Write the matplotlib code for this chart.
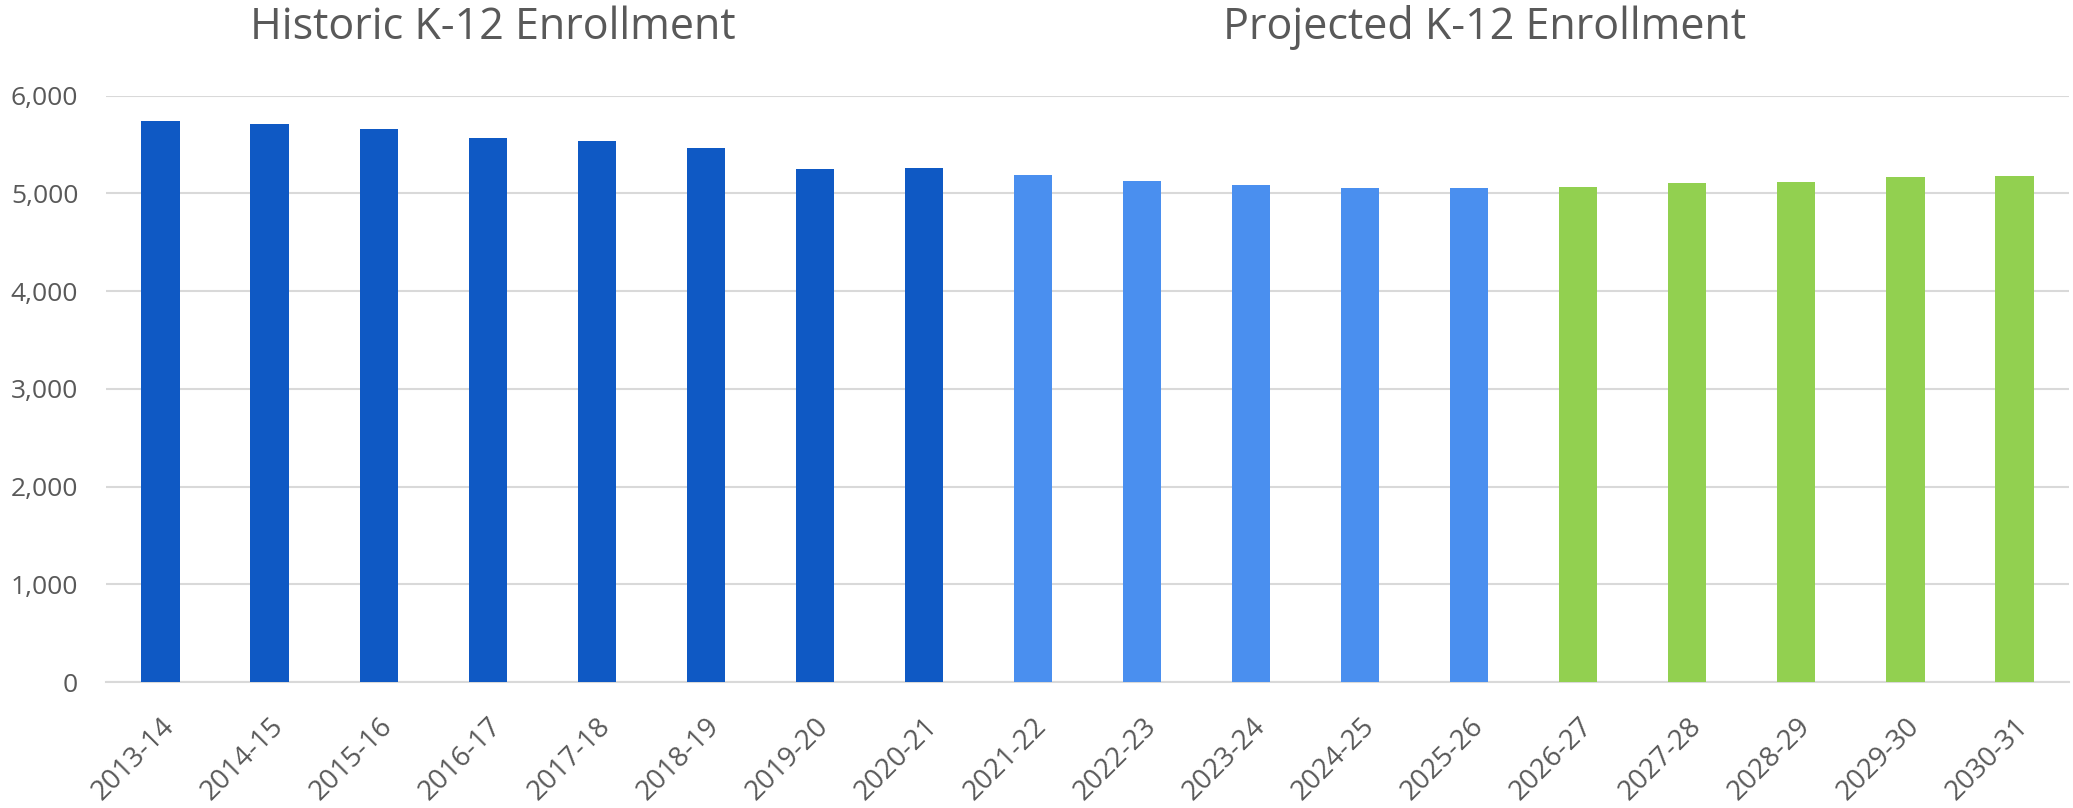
import matplotlib
matplotlib.use("Agg")
import matplotlib.pyplot as plt
import numpy as np

years = ["2013-14", "2014-15", "2015-16", "2016-17", "2017-18", "2018-19", "2019-20",
         "2020-21", "2021-22", "2022-23", "2023-24", "2024-25", "2025-26", "2026-27",
         "2027-28", "2028-29", "2029-30", "2030-31"]
enrollment = [5742, 5714, 5660, 5565, 5534, 5463, 5249, 5262, 5191, 5130, 5089,
              5058, 5058, 5068, 5109, 5119, 5170, 5180]
groups = ["hist"] * 8 + ["proj1"] * 5 + ["proj2"] * 5
group_colors = {"hist": "#0F59C4", "proj1": "#4A8FEF", "proj2": "#92D050"}
yticks = [0, 1000, 2000, 3000, 4000, 5000, 6000]
titles = ["Historic K-12 Enrollment", "Projected K-12 Enrollment"]

plt.rcParams['font.family'] = ['Open Sans', 'DejaVu Sans']
txt = "#595959"

fig = plt.figure(figsize=(20.73, 8.08), dpi=100)
ax = fig.add_axes([106/2073, 1 - 682/808, (2069-106)/2073, (682-95.7)/808])

x = np.arange(len(years))
ax.bar(x, enrollment, width=0.35, color=[group_colors[g] for g in groups], zorder=3)

ax.set_xlim(-0.5, len(years) - 0.5)
ax.set_ylim(0, 6000)
ax.set_yticks(yticks)
ax.set_yticklabels([f"{v:,}" for v in yticks])
ax.yaxis.grid(True, color="#D9D9D9", linewidth=1.5, zorder=0)
for s in ["top", "right", "left"]:
    ax.spines[s].set_visible(False)
ax.spines["bottom"].set_color("#D9D9D9")
ax.spines["bottom"].set_linewidth(1.5)
ax.tick_params(axis="y", length=0, pad=20, labelsize=19, labelcolor=txt)
ax.tick_params(axis="x", length=0, pad=22, labelsize=20, labelcolor=txt)
ax.set_xticks(x)
ax.set_xticklabels(years, rotation=45, ha="right", rotation_mode="anchor")

fig.text(493/2073, 1 - 28/808, titles[0], ha="center", va="center", fontsize=31, color=txt)
fig.text(1485/2073, 1 - 28/808, titles[1], ha="center", va="center", fontsize=31, color=txt)

fig.savefig("out.png", dpi=100, facecolor="white")
